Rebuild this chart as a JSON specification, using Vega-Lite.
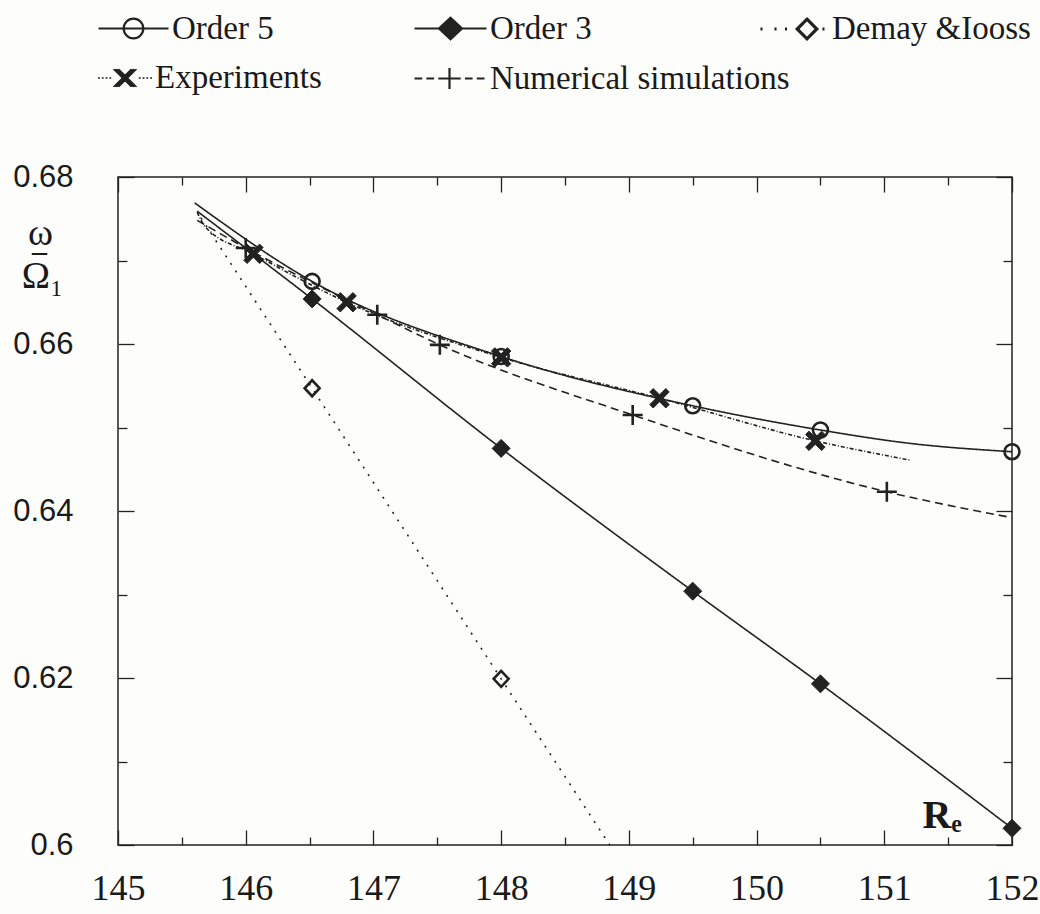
{
  "$schema": "https://vega.github.io/schema/vega-lite/v6.json",
  "width": 894,
  "height": 668,
  "autosize": {"type": "none"},
  "padding": {"left": 118, "top": 177, "right": 28, "bottom": 69},
  "background": "#fdfdfc",
  "config": {
    "view": {"stroke": "#222", "strokeWidth": 1.5},
    "legend": {"padding": 0, "offset": 0, "rowPadding": 0, "titlePadding": 0, "labelLimit": 600}
  },
  "datasets": {
    "lines": [
      {"series": "Order 5", "Re": 145.60, "w": 0.6769},
      {"series": "Order 5", "Re": 146.52, "w": 0.6675},
      {"series": "Order 5", "Re": 148.00, "w": 0.6585},
      {"series": "Order 5", "Re": 149.50, "w": 0.6526},
      {"series": "Order 5", "Re": 150.50, "w": 0.6497},
      {"series": "Order 5", "Re": 151.20, "w": 0.6481},
      {"series": "Order 5", "Re": 152.00, "w": 0.6471},
      {"series": "Order 3", "Re": 145.62, "w": 0.6759},
      {"series": "Order 3", "Re": 146.52, "w": 0.6654},
      {"series": "Order 3", "Re": 148.00, "w": 0.6475},
      {"series": "Order 3", "Re": 149.50, "w": 0.6304},
      {"series": "Order 3", "Re": 150.50, "w": 0.6193},
      {"series": "Order 3", "Re": 152.00, "w": 0.6020},
      {"series": "Demay &Iooss", "Re": 145.65, "w": 0.6751},
      {"series": "Demay &Iooss", "Re": 146.52, "w": 0.6547},
      {"series": "Demay &Iooss", "Re": 148.00, "w": 0.6199},
      {"series": "Demay &Iooss", "Re": 148.85, "w": 0.6000},
      {"series": "Experiments", "Re": 145.62, "w": 0.6758},
      {"series": "Experiments", "Re": 145.68, "w": 0.6741},
      {"series": "Experiments", "Re": 146.06, "w": 0.6708},
      {"series": "Experiments", "Re": 146.79, "w": 0.6650},
      {"series": "Experiments", "Re": 148.00, "w": 0.6584},
      {"series": "Experiments", "Re": 149.24, "w": 0.6535},
      {"series": "Experiments", "Re": 150.46, "w": 0.6484},
      {"series": "Experiments", "Re": 151.20, "w": 0.6461},
      {"series": "Numerical simulations", "Re": 145.62, "w": 0.6748},
      {"series": "Numerical simulations", "Re": 146.00, "w": 0.6715},
      {"series": "Numerical simulations", "Re": 147.03, "w": 0.6635},
      {"series": "Numerical simulations", "Re": 147.52, "w": 0.6599},
      {"series": "Numerical simulations", "Re": 149.03, "w": 0.6515},
      {"series": "Numerical simulations", "Re": 151.02, "w": 0.6423},
      {"series": "Numerical simulations", "Re": 152.00, "w": 0.6392}
    ],
    "markers": [
      {"series": "Order 5", "Re": 146.52, "w": 0.6675},
      {"series": "Order 5", "Re": 148.00, "w": 0.6585},
      {"series": "Order 5", "Re": 149.50, "w": 0.6526},
      {"series": "Order 5", "Re": 150.50, "w": 0.6497},
      {"series": "Order 5", "Re": 152.00, "w": 0.6471},
      {"series": "Order 3", "Re": 146.52, "w": 0.6654},
      {"series": "Order 3", "Re": 148.00, "w": 0.6475},
      {"series": "Order 3", "Re": 149.50, "w": 0.6304},
      {"series": "Order 3", "Re": 150.50, "w": 0.6193},
      {"series": "Order 3", "Re": 152.00, "w": 0.6020},
      {"series": "Demay &Iooss", "Re": 146.52, "w": 0.6547},
      {"series": "Demay &Iooss", "Re": 148.00, "w": 0.6199},
      {"series": "Experiments", "Re": 146.06, "w": 0.6708},
      {"series": "Experiments", "Re": 146.79, "w": 0.6650},
      {"series": "Experiments", "Re": 148.00, "w": 0.6584},
      {"series": "Experiments", "Re": 149.24, "w": 0.6535},
      {"series": "Experiments", "Re": 150.46, "w": 0.6484},
      {"series": "Numerical simulations", "Re": 146.00, "w": 0.6715},
      {"series": "Numerical simulations", "Re": 147.03, "w": 0.6635},
      {"series": "Numerical simulations", "Re": 147.52, "w": 0.6599},
      {"series": "Numerical simulations", "Re": 149.03, "w": 0.6515},
      {"series": "Numerical simulations", "Re": 151.02, "w": 0.6423}
    ]
  },
  "resolve": {
    "scale": {"shape": "independent", "strokeWidth": "independent"},
    "axis": {"x": "independent", "y": "independent"}
  },
  "layer": [
    {
      "data": {"name": "lines"},
      "mark": {"type": "line", "interpolate": "monotone", "stroke": "#222"},
      "encoding": {
        "x": {
          "field": "Re", "type": "quantitative",
          "scale": {"domain": [145, 152], "nice": false, "zero": false},
          "axis": {
            "orient": "bottom",
            "values": [145, 146, 147, 148, 149, 150, 151, 152],
            "format": "d",
            "domain": false, "grid": false, "ticks": true, "tickSize": -15,
            "tickColor": "#222", "tickWidth": 1.3,
            "labelFont": "Liberation Serif", "labelFontSize": 36, "labelColor": "#1a1a1a",
            "labelPadding": 41, "labelBaseline": "top", "labelFlush": false, "labelOverlap": false, "labelBound": false,
            "title": "Rₑ", "titleFont": "Liberation Serif", "titleFontSize": 40, "titleFontWeight": "bold",
            "titleColor": "#1a1a1a", "titleX": 804, "titleY": -18, "titleAlign": "left", "titleBaseline": "alphabetic", "titleAngle": 0
          }
        },
        "y": {
          "field": "w", "type": "quantitative",
          "scale": {"domain": [0.6, 0.68], "nice": false, "zero": false},
          "axis": {
            "orient": "left",
            "values": [0.6, 0.62, 0.64, 0.66, 0.68],
            "labelExpr": "format(datum.value, '~g')",
            "domain": false, "grid": false, "ticks": true, "tickSize": -16,
            "tickColor": "#222", "tickWidth": 1.3,
            "labelFont": "Liberation Sans", "labelFontSize": 31, "labelColor": "#1a1a1a",
            "labelPadding": 61, "labelAlign": "right", "labelBaseline": "middle", "labelFlush": false, "labelOverlap": false, "labelBound": false,
            "title": "ω", "titleFont": "Liberation Serif", "titleFontSize": 38, "titleFontWeight": "normal",
            "titleColor": "#1a1a1a", "titleX": -78, "titleY": 67, "titleAlign": "center", "titleBaseline": "alphabetic",
            "titleAngle": 0
          }
        },
        "detail": {"field": "series"},
        "strokeDash": {
          "field": "series", "type": "nominal", "legend": null,
          "scale": {
            "domain": ["Order 5", "Order 3", "Demay &Iooss", "Experiments", "Numerical simulations"],
            "range": [[1, 0], [1, 0], [2, 7], [4, 2, 1, 2], [8, 5]]
          }
        },
        "strokeWidth": {
          "field": "series", "type": "nominal", "legend": null,
          "scale": {
            "domain": ["Order 5", "Order 3", "Demay &Iooss", "Experiments", "Numerical simulations"],
            "range": [1.6, 1.6, 2.2, 1.3, 1.6]
          }
        }
      }
    },
    {
      "data": {"name": "markers"},
      "transform": [{"filter": "datum.series === 'Order 5'"}],
      "mark": {"type": "point", "shape": "M0.75,0A0.75,0.75 0 1,1 -0.75,0A0.75,0.75 0 1,1 0.75,0Z", "size": 400, "filled": false, "color": "#222", "stroke": "#222", "strokeWidth": 2.6, "opacity": 1},
      "encoding": {
        "x": {
          "field": "Re", "type": "quantitative", "scale": {"domain": [145, 152], "nice": false, "zero": false},
          "axis": {
            "orient": "bottom", "labels": false, "title": null, "domain": false, "grid": false,
            "values": [145.5, 146.5, 147.5, 148.5, 149.5, 150.5, 151.5],
            "ticks": true, "tickSize": -8, "tickColor": "#222", "tickWidth": 1.3
          }
        },
        "y": {
          "field": "w", "type": "quantitative", "scale": {"domain": [0.6, 0.68], "nice": false, "zero": false},
          "axis": {
            "orient": "left", "labels": false, "domain": false, "grid": false,
            "values": [0.61, 0.63, 0.65, 0.67],
            "ticks": true, "tickSize": -9, "tickColor": "#222", "tickWidth": 1.3,
            "title": "Ω₁", "titleFont": "Liberation Serif", "titleFontSize": 38, "titleFontWeight": "normal",
            "titleColor": "#1a1a1a", "titleX": -76, "titleY": 110, "titleAlign": "center", "titleBaseline": "alphabetic",
            "titleAngle": 0
          }
        }
      }
    },
    {
      "data": {"name": "markers"},
      "transform": [{"filter": "datum.series === 'Order 3'"}],
      "mark": {"type": "point", "shape": "M0,-0.9L0.9,0L0,0.9L-0.9,0Z", "size": 400, "filled": true, "color": "#222", "stroke": "#222", "strokeWidth": 1, "opacity": 1},
      "encoding": {
        "x": {
          "field": "Re", "type": "quantitative", "scale": {"domain": [145, 152], "nice": false, "zero": false},
          "axis": {
            "orient": "top", "labels": false, "title": null, "domain": false, "grid": false,
            "values": [145, 146, 147, 148, 149, 150, 151, 152],
            "ticks": true, "tickSize": -15, "tickColor": "#222", "tickWidth": 1.3
          }
        },
        "y": {
          "field": "w", "type": "quantitative", "scale": {"domain": [0.6, 0.68], "nice": false, "zero": false},
          "axis": {
            "orient": "right", "labels": false, "domain": false, "grid": false,
            "values": [0.6, 0.62, 0.64, 0.66, 0.68],
            "ticks": true, "tickSize": -16, "tickColor": "#222", "tickWidth": 1.3,
            "title": "–", "titleFont": "Liberation Serif", "titleFontSize": 30, "titleFontWeight": "bold",
            "titleColor": "#1a1a1a", "titleX": -973, "titleY": 83, "titleAlign": "center", "titleBaseline": "alphabetic",
            "titleAngle": 0
          }
        }
      }
    },
    {
      "data": {"name": "markers"},
      "transform": [{"filter": "datum.series === 'Demay &Iooss'"}],
      "mark": {"type": "point", "shape": "M0,-0.8L0.75,0L0,0.8L-0.75,0Z", "size": 400, "filled": false, "color": "#222", "stroke": "#222", "strokeWidth": 2.6, "opacity": 1},
      "encoding": {
        "x": {
          "field": "Re", "type": "quantitative", "scale": {"domain": [145, 152], "nice": false, "zero": false},
          "axis": {
            "orient": "top", "labels": false, "title": null, "domain": false, "grid": false,
            "values": [145.5, 146.5, 147.5, 148.5, 149.5, 150.5, 151.5],
            "ticks": true, "tickSize": -8, "tickColor": "#222", "tickWidth": 1.3
          }
        },
        "y": {
          "field": "w", "type": "quantitative", "scale": {"domain": [0.6, 0.68], "nice": false, "zero": false},
          "axis": {
            "orient": "right", "labels": false, "title": null, "domain": false, "grid": false,
            "values": [0.61, 0.63, 0.65, 0.67],
            "ticks": true, "tickSize": -9, "tickColor": "#222", "tickWidth": 1.3
          }
        }
      }
    },
    {
      "data": {"name": "markers"},
      "transform": [{"filter": "datum.series === 'Experiments'"}],
      "mark": {"type": "point", "shape": "M-0.97,-0.63L-0.63,-0.97L0.97,0.63L0.63,0.97ZM0.97,-0.63L-0.63,0.97L-0.97,0.63L0.63,-0.97Z", "size": 400, "filled": true, "color": "#222", "stroke": "#222", "strokeWidth": 1, "opacity": 1},
      "encoding": {
        "x": {"field": "Re", "type": "quantitative", "scale": {"domain": [145, 152], "nice": false, "zero": false}, "axis": null},
        "y": {"field": "w", "type": "quantitative", "scale": {"domain": [0.6, 0.68], "nice": false, "zero": false}, "axis": null}
      }
    },
    {
      "data": {"name": "markers"},
      "transform": [{"filter": "datum.series === 'Numerical simulations'"}],
      "mark": {"type": "point", "shape": "M-1,0L1,0M0,-1L0,1", "size": 400, "filled": false, "color": "#222", "stroke": "#222", "strokeWidth": 2.6, "opacity": 1},
      "encoding": {
        "x": {"field": "Re", "type": "quantitative", "scale": {"domain": [145, 152], "nice": false, "zero": false}, "axis": null},
        "y": {"field": "w", "type": "quantitative", "scale": {"domain": [0.6, 0.68], "nice": false, "zero": false}, "axis": null}
      }
    },
    {
      "data": {"name": "markers"},
      "transform": [{"filter": "datum.series === 'Order 5'"}],
      "mark": {"type": "point", "opacity": 0, "color": "#222", "stroke": "#222", "filled": false, "strokeWidth": 2.2},
      "encoding": {
        "x": {"field": "Re", "type": "quantitative", "scale": {"domain": [145, 152], "nice": false, "zero": false}, "axis": null},
        "y": {"field": "w", "type": "quantitative", "scale": {"domain": [0.6, 0.68], "nice": false, "zero": false}, "axis": null},
        "shape": {
          "field": "series", "type": "nominal",
          "scale": {"domain": ["Order 5"], "range": ["M-1,0L1,0M0.28,0A0.28,0.28 0 1,1 -0.28,0A0.28,0.28 0 1,1 0.28,0Z"]},
          "legend": {
            "orient": "none", "legendX": -21, "legendY": -185, "title": null, "symbolSize": 4900,
            "labelFont": "Liberation Serif", "labelFontSize": 33, "labelColor": "#1a1a1a", "labelOffset": 2, "labelLimit": 600,
            "symbolOpacity": 1, "symbolStrokeWidth": 2.2, "symbolStrokeColor": "#222", "symbolFillColor": "transparent"
          }
        }
      }
    },
    {
      "data": {"name": "markers"},
      "transform": [{"filter": "datum.series === 'Order 3'"}],
      "mark": {"type": "point", "opacity": 0, "color": "#222", "stroke": "#222", "filled": false, "strokeWidth": 2.2},
      "encoding": {
        "x": {"field": "Re", "type": "quantitative", "scale": {"domain": [145, 152], "nice": false, "zero": false}, "axis": null},
        "y": {"field": "w", "type": "quantitative", "scale": {"domain": [0.6, 0.68], "nice": false, "zero": false}, "axis": null},
        "shape": {
          "field": "series", "type": "nominal",
          "scale": {"domain": ["Order 3"], "range": ["M-1,0L1,0M0,-0.3L0.32,0L0,0.3L-0.32,0ZM0,-0.24L0.256,0L0,0.24L-0.256,0ZM0,-0.18L0.19,0L0,0.18L-0.19,0ZM0,-0.12L0.13,0L0,0.12L-0.13,0ZM0,-0.06L0.064,0L0,0.06L-0.064,0ZM0,-0.3L0,0.3"]},
          "legend": {
            "orient": "none", "legendX": 295, "legendY": -186, "title": null, "symbolSize": 5184,
            "labelFont": "Liberation Serif", "labelFontSize": 33, "labelColor": "#1a1a1a", "labelOffset": 2, "labelLimit": 600,
            "symbolOpacity": 1, "symbolStrokeWidth": 2.2, "symbolStrokeColor": "#222", "symbolFillColor": "transparent"
          }
        }
      }
    },
    {
      "data": {"name": "markers"},
      "transform": [{"filter": "datum.series === 'Demay &Iooss'"}],
      "mark": {"type": "point", "opacity": 0, "color": "#222", "stroke": "#222", "filled": false, "strokeWidth": 3.2},
      "encoding": {
        "x": {"field": "Re", "type": "quantitative", "scale": {"domain": [145, 152], "nice": false, "zero": false}, "axis": null},
        "y": {"field": "w", "type": "quantitative", "scale": {"domain": [0.6, 0.68], "nice": false, "zero": false}, "axis": null},
        "shape": {
          "field": "series", "type": "nominal",
          "scale": {"domain": ["Demay &Iooss"], "range": ["M-0.93,0L-0.87,0M-0.53,0L-0.47,0M-0.23,0L-0.17,0M0.4,-0.28L0.68,0L0.4,0.28L0.12,0ZM0.84,0L0.9,0"]},
          "legend": {
            "orient": "none", "legendX": 638, "legendY": -185, "title": null, "symbolSize": 4900,
            "labelFont": "Liberation Serif", "labelFontSize": 33, "labelColor": "#1a1a1a", "labelOffset": 2, "labelLimit": 600,
            "symbolOpacity": 1, "symbolStrokeWidth": 3.2, "symbolStrokeColor": "#222", "symbolFillColor": "transparent"
          }
        }
      }
    },
    {
      "data": {"name": "markers"},
      "transform": [{"filter": "datum.series === 'Experiments'"}],
      "mark": {"type": "point", "opacity": 0, "color": "#222", "stroke": "#222", "filled": false, "strokeWidth": 1.3},
      "encoding": {
        "x": {"field": "Re", "type": "quantitative", "scale": {"domain": [145, 152], "nice": false, "zero": false}, "axis": null},
        "y": {"field": "w", "type": "quantitative", "scale": {"domain": [0.6, 0.68], "nice": false, "zero": false}, "axis": null},
        "shape": {
          "field": "series", "type": "nominal",
          "scale": {"domain": ["Experiments"], "range": ["M-1,0L-0.93,0M-0.86,0L-0.79,0M-0.72,0L-0.65,0M-0.58,0L-0.51,0M-0.43,-0.33L0.23,0.33M-0.38,-0.33L0.28,0.33M-0.33,-0.33L0.33,0.33M-0.28,-0.33L0.38,0.33M-0.23,-0.33L0.43,0.33M0.23,-0.33L-0.43,0.33M0.28,-0.33L-0.38,0.33M0.33,-0.33L-0.33,0.33M0.38,-0.33L-0.28,0.33M0.43,-0.33L-0.23,0.33M0.51,0L0.58,0M0.65,0L0.72,0M0.79,0L0.86,0M0.93,0L1,0"]},
          "legend": {
            "orient": "none", "legendX": -21, "legendY": -127, "title": null, "symbolSize": 2916,
            "labelFont": "Liberation Serif", "labelFontSize": 33, "labelColor": "#1a1a1a", "labelOffset": 2, "labelLimit": 600,
            "symbolOpacity": 1, "symbolStrokeWidth": 1.3, "symbolStrokeColor": "#222", "symbolFillColor": "transparent"
          }
        }
      }
    },
    {
      "data": {"name": "markers"},
      "transform": [{"filter": "datum.series === 'Numerical simulations'"}],
      "mark": {"type": "point", "opacity": 0, "color": "#222", "stroke": "#222", "filled": false, "strokeWidth": 2.2},
      "encoding": {
        "x": {"field": "Re", "type": "quantitative", "scale": {"domain": [145, 152], "nice": false, "zero": false}, "axis": null},
        "y": {"field": "w", "type": "quantitative", "scale": {"domain": [0.6, 0.68], "nice": false, "zero": false}, "axis": null},
        "shape": {
          "field": "series", "type": "nominal",
          "scale": {"domain": ["Numerical simulations"], "range": ["M-1,0L-0.78,0M-0.66,0L-0.44,0M-0.32,0L0.32,0M0,-0.3L0,0.3M0.44,0L0.66,0M0.78,0L1,0"]},
          "legend": {
            "orient": "none", "legendX": 295, "legendY": -135, "title": null, "symbolSize": 4900,
            "labelFont": "Liberation Serif", "labelFontSize": 33, "labelColor": "#1a1a1a", "labelOffset": 4, "labelLimit": 600,
            "symbolOpacity": 1, "symbolStrokeWidth": 2.2, "symbolStrokeColor": "#222", "symbolFillColor": "transparent"
          }
        }
      }
    }
  ]
}
